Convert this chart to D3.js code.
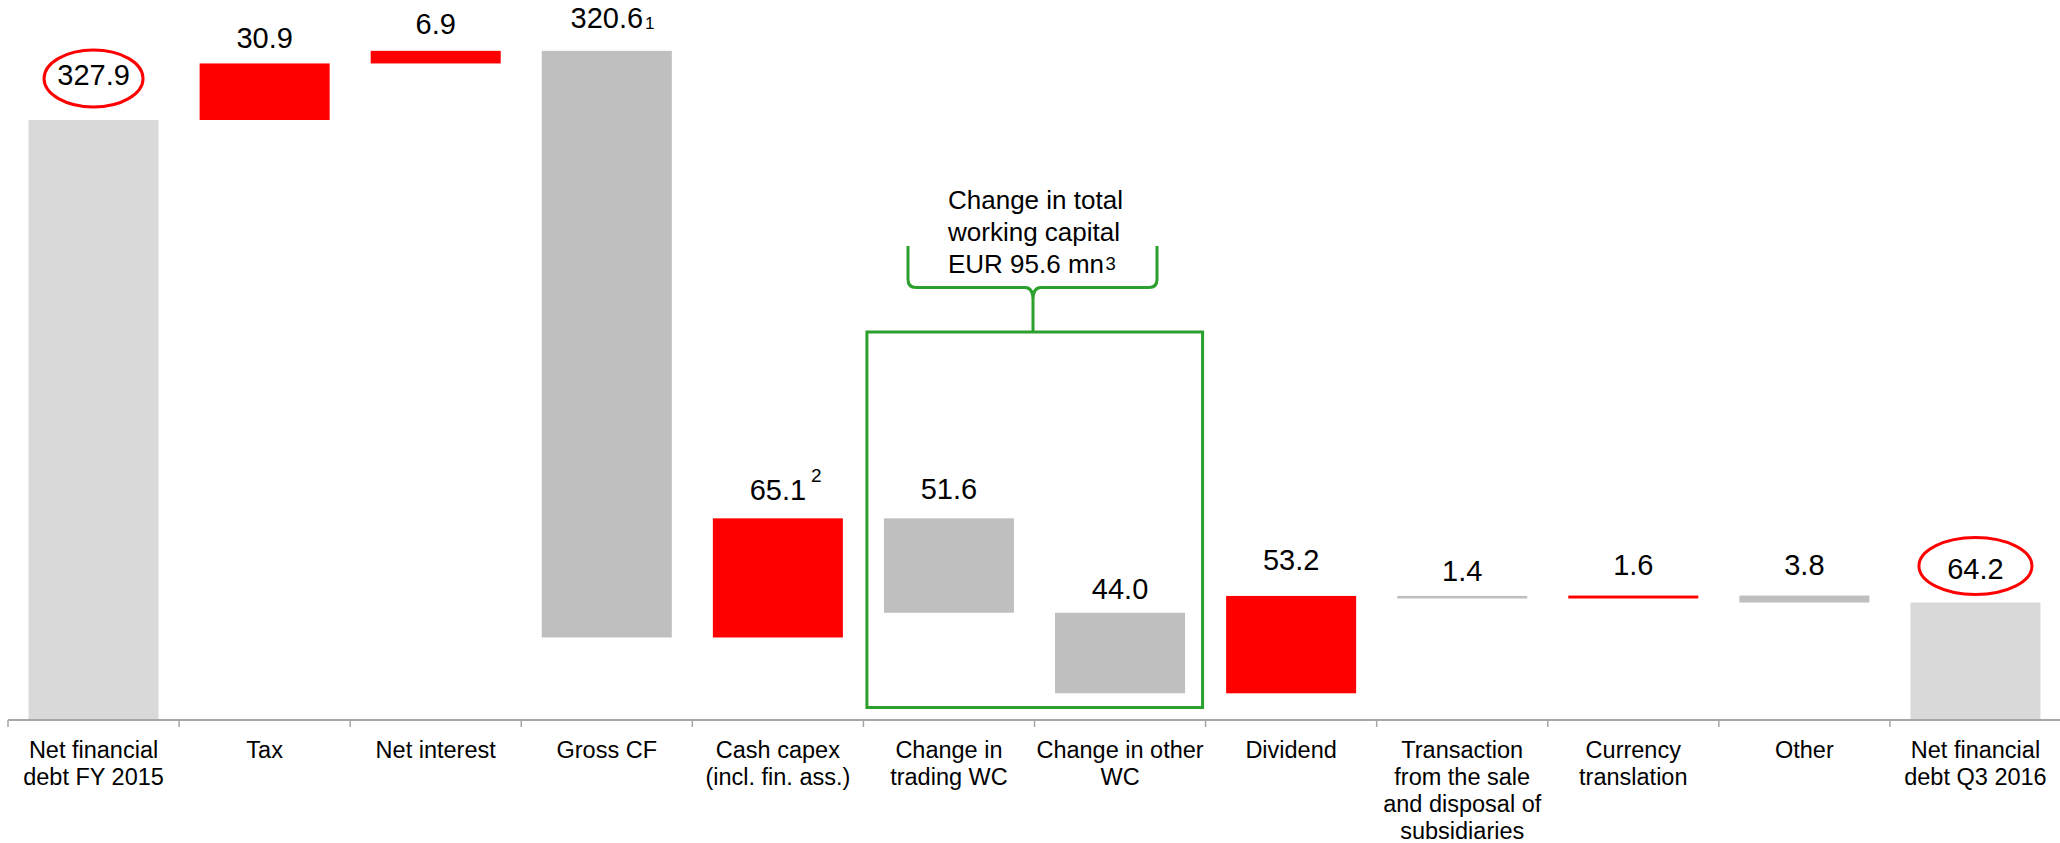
<!DOCTYPE html>
<html>
<head>
<meta charset="utf-8">
<script src="https://cdn.jsdelivr.net/npm/d3@7"></script>
<style>
  html, body { margin: 0; padding: 0; background: #fff; }
  svg { display: block; font-family: "Liberation Sans", Arial, sans-serif; }
</style>
</head>
<body>
<svg id="chart" width="2060" height="843"></svg>
<script>
// Net financial debt bridge, EUR mn
const categories = [
  "Net financial debt FY 2015", "Tax", "Net interest", "Gross CF",
  "Cash capex (incl. fin. ass.)", "Change in trading WC", "Change in other WC",
  "Dividend", "Transaction from the sale and disposal of subsidiaries",
  "Currency translation", "Other", "Net financial debt Q3 2016"
];
const categoryLines = [
  ["Net financial", "debt FY 2015"], ["Tax"], ["Net interest"], ["Gross CF"],
  ["Cash capex", "(incl. fin. ass.)"], ["Change in", "trading WC"], ["Change in other", "WC"],
  ["Dividend"], ["Transaction", "from the sale", "and disposal of", "subsidiaries"],
  ["Currency", "translation"], ["Other"], ["Net financial", "debt Q3 2016"]
];
const values = [327.9, 30.9, 6.9, 320.6, 65.1, 51.6, 44.0, 53.2, 1.4, 1.6, 3.8, 64.2];
// total = start/end level, up = adds to debt, down = reduces debt
const kinds = ["total", "up", "up", "down", "up", "down", "down", "up", "down", "up", "down", "total"];
const footnotes = ["", "", "", "1", "2", "", "", "", "", "", "", ""];
const footnoteStyle = ["", "", "", "sub", "sup", "", "", "", "", "", "", ""];
const circled = [0, 11];
const wcTitle = ["Change in total", "working capital", "EUR 95.6 mn"];
const wcNote = "3";

// vertical gap between each value label baseline and its bar top
const labelLift = [35, 15, 17, 23, 18, 19, 14, 26, 15, 21, 21, 24];

const colors = { total: "#d9d9d9", up: "#ff0000", down: "#bfbfbf" };
const green = "#2ca02c";

const svg = d3.select("#chart");
const axisY = 720;

const x = d3.scaleBand()
  .domain(categories)
  .range([8, 2061])
  .paddingInner(0.24)
  .paddingOuter(0.12);

const y = d3.scaleLinear().domain([0, values[0]]).range([axisY, 120]);

// running totals for the waterfall
let level = 0;
const segs = values.map((v, i) => {
  let lo, hi;
  if (kinds[i] === "total") { lo = 0; hi = v; level = v; }
  else if (kinds[i] === "up") { lo = level; hi = level + v; level = hi; }
  else { lo = level - v; hi = level; level = lo; }
  return { cat: categories[i], v, lo, hi, kind: kinds[i], i };
});

// bars
svg.append("g").selectAll("rect")
  .data(segs)
  .join("rect")
  .attr("x", d => x(d.cat))
  .attr("width", x.bandwidth())
  .attr("y", d => y(d.hi))
  .attr("height", d => y(d.lo) - y(d.hi))
  .attr("fill", d => colors[d.kind]);

// axis line and tick marks at band edges
const step = x.step();
const r0 = x.range()[0];
const axis = svg.append("g").attr("stroke", "#a6a6a6");
axis.append("line")
  .attr("x1", r0).attr("x2", x.range()[1])
  .attr("y1", axisY).attr("y2", axisY)
  .attr("stroke-width", 2);
axis.selectAll("line.tick")
  .data(d3.range(categories.length + 1))
  .join("line")
  .attr("class", "tick")
  .attr("x1", i => r0 + i * step).attr("x2", i => r0 + i * step)
  .attr("y1", axisY).attr("y2", axisY + 7)
  .attr("stroke-width", 1.5);

// category labels
const catG = svg.append("g")
  .attr("font-size", 23.5)
  .attr("fill", "#000")
  .attr("text-anchor", "middle");
categoryLines.forEach((lines, i) => {
  const t = catG.append("text")
    .attr("x", x(categories[i]) + x.bandwidth() / 2)
    .attr("y", 757.5);
  lines.forEach((ln, k) => {
    t.append("tspan")
      .attr("x", x(categories[i]) + x.bandwidth() / 2)
      .attr("dy", k === 0 ? 0 : 27)
      .text(ln);
  });
});

// value labels
const fmt = d3.format(".1f");
const valG = svg.append("g").attr("font-size", 29).attr("fill", "#000");
segs.forEach(d => {
  const cx = x(d.cat) + x.bandwidth() / 2;
  const base = y(d.hi) - labelLift[d.i];
  const t = valG.append("text")
    .attr("x", cx).attr("y", base)
    .attr("text-anchor", "middle")
    .text(fmt(d.v));
  const w = t.node().getComputedTextLength();
  if (footnotes[d.i]) {
    const sup = footnoteStyle[d.i] === "sup";
    valG.append("text")
      .attr("x", cx + w / 2 + (sup ? 5 : 2))
      .attr("y", sup ? base - 18 : base + 1.5)
      .attr("font-size", sup ? 19 : 17)
      .text(footnotes[d.i]);
  }
  if (circled.includes(d.i)) {
    svg.append("ellipse")
      .attr("cx", cx)
      .attr("cy", base - (d.i === 0 ? 6.5 : 12.5))
      .attr("rx", d.i === 0 ? 49.5 : 56.5)
      .attr("ry", 28.5)
      .attr("fill", "none")
      .attr("stroke", "#ff0000")
      .attr("stroke-width", 3);
  }
});

// working capital group: box around the two WC bars
const boxL = x(categories[5]) - (x.step() - x.bandwidth()) / 2 + 3.5;
const boxR = x(categories[6]) + x.bandwidth() + (x.step() - x.bandwidth()) / 2 - 3;
const boxT = 332;
const boxB = axisY - 12.5;
svg.append("rect")
  .attr("x", boxL).attr("y", boxT)
  .attr("width", boxR - boxL).attr("height", boxB - boxT)
  .attr("fill", "none")
  .attr("stroke", green)
  .attr("stroke-width", 3);

// curly brace above the box
const bL = 908, bR = 1157, bTop = 246, bMid = 287.5;
const tipX = (x(categories[5]) + x(categories[6]) + x.bandwidth()) / 2 - 1.5;
const rr = 8;
const brace = d3.path();
brace.moveTo(bL, bTop);
brace.lineTo(bL, bMid - rr);
brace.quadraticCurveTo(bL, bMid, bL + rr, bMid);
brace.lineTo(tipX - rr, bMid);
brace.quadraticCurveTo(tipX, bMid, tipX, bMid + rr + 4);
brace.lineTo(tipX, boxT);
brace.moveTo(tipX, bMid + rr + 4);
brace.quadraticCurveTo(tipX, bMid, tipX + rr, bMid);
brace.lineTo(bR - rr, bMid);
brace.quadraticCurveTo(bR, bMid, bR, bMid - rr);
brace.lineTo(bR, bTop);
svg.append("path")
  .attr("d", brace.toString())
  .attr("fill", "none")
  .attr("stroke", green)
  .attr("stroke-width", 3)
  .attr("stroke-linejoin", "round");

// group title
const titleG = svg.append("g").attr("font-size", 26).attr("fill", "#000");
let lastW = 0;
wcTitle.forEach((ln, k) => {
  const t = titleG.append("text").attr("x", 948).attr("y", 209 + k * 32).text(ln);
  lastW = t.node().getComputedTextLength();
});
titleG.append("text")
  .attr("x", 948 + lastW + 1.5)
  .attr("y", 209 + 2 * 32 - 3)
  .attr("font-size", 18.5)
  .text(wcNote);
</script>
</body>
</html>
